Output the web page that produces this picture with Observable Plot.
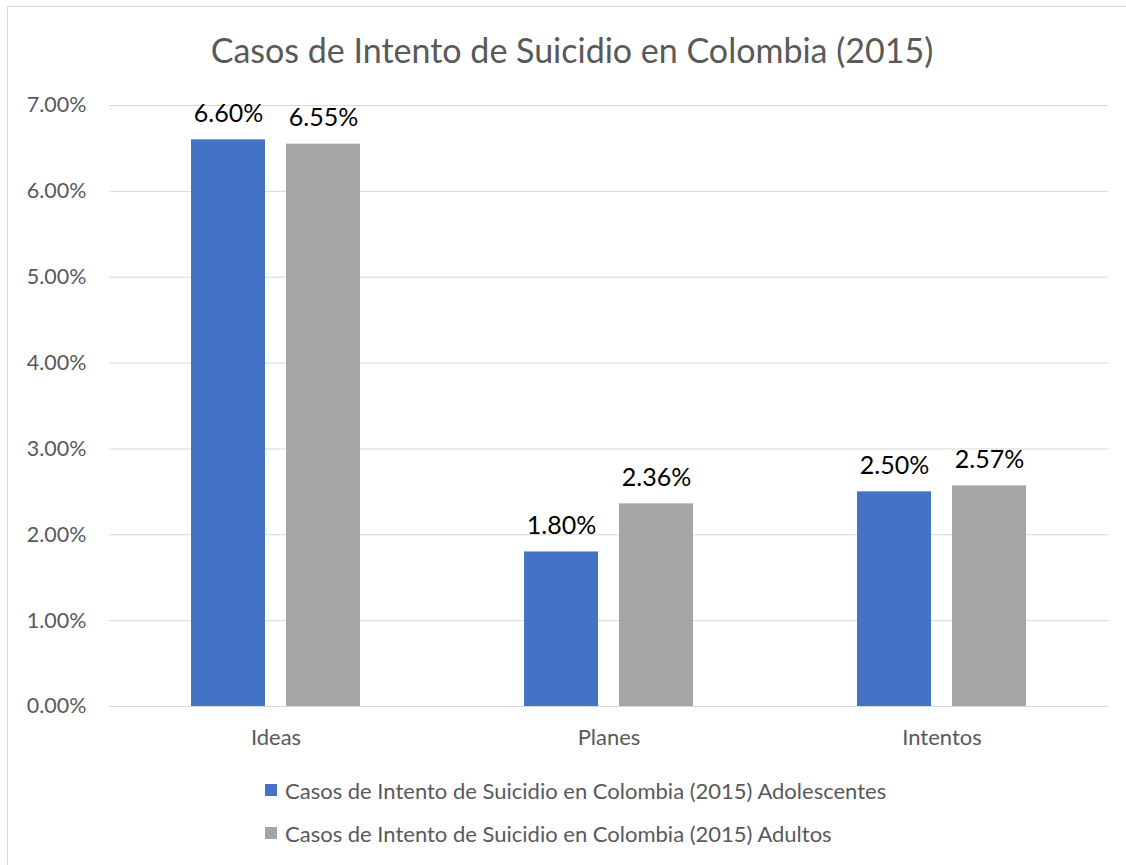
<!DOCTYPE html>
<html>
<head>
<meta charset="utf-8">
<script src="https://cdn.jsdelivr.net/npm/d3@7"></script>
<script src="https://cdn.jsdelivr.net/npm/@observablehq/plot@0.6"></script>
<style>
  html, body { margin: 0; padding: 0; background: white; }
  #wrap { position: relative; width: 1126px; height: 865px; overflow: hidden; font-family: Lato, "Open Sans", sans-serif; }
  #frame { position: absolute; left: 7px; top: 6px; width: 1200px; height: 900px; border-top: 1px solid #d9d9d9; border-left: 1px solid #d9d9d9; box-sizing: border-box; }
  #title { position: absolute; left: 0; width: 1144px; top: 29px; text-align: center; font-size: 34px; color: #595959; }
  #chart { position: absolute; left: 0; top: 0; }
  .leg { position: absolute; left: 265px; font-size: 22px; color: #595959; display: flex; align-items: center; white-space: nowrap; height: 30px; }
  .sw { width: 12px; height: 12px; margin-right: 8px; }
</style>
</head>
<body>
<div id="wrap">
  <div id="frame"></div>
  <div id="chart"></div>
  <div id="title">Casos de Intento de Suicidio en Colombia (2015)</div>
  <div id="legend"></div>
</div>
<script>
const categories = ["Ideas", "Planes", "Intentos"];
const seriesNames = ["Casos de Intento de Suicidio en Colombia (2015) Adolescentes", "Casos de Intento de Suicidio en Colombia (2015) Adultos"];
const adolescentes = [6.60, 1.80, 2.50];
const adultos = [6.55, 2.36, 2.57];
const colors = ["#4472C4", "#A5A5A5"];
const yTicks = [0, 1, 2, 3, 4, 5, 6, 7];

const data = [];
categories.forEach((c, i) => {
  data.push({cat: c, series: seriesNames[0], value: adolescentes[i]});
  data.push({cat: c, series: seriesNames[1], value: adultos[i]});
});

const chart = Plot.plot({
  width: 1126,
  height: 765,
  marginLeft: 108,
  marginRight: 18,
  marginTop: 105,
  marginBottom: 59,
  style: {fontFamily: "Lato, 'Open Sans', sans-serif", fontSize: "21.5px", color: "#595959", background: "transparent"},
  fx: {domain: categories, padding: 0, label: null, axis: null},
  x: {domain: seriesNames, paddingInner: 0.221, paddingOuter: 0.863, axis: null},
  y: {domain: [0, 7], label: null},
  color: {domain: seriesNames, range: colors},
  marks: [
    Plot.gridY(yTicks, {stroke: "#d9d9d9", strokeOpacity: 1}),
    Plot.axisY(yTicks, {tickSize: 0, tickPadding: 23, tickFormat: d => d.toFixed(2) + "%", label: null, fill: "#595959", fontSize: 21.5}),
    Plot.axisFx({anchor: "bottom", tickSize: 0, tickPadding: 23, label: null, fill: "#595959", fontSize: 22}),
    Plot.barY(data, {fx: "cat", x: "series", y: "value", fill: "series"}),
    Plot.text(data, {fx: "cat", x: "series", y: "value", text: d => d.value.toFixed(2) + "%", lineAnchor: "bottom", dy: -18, fill: "black", fontSize: 25})
  ]
});
document.getElementById("chart").appendChild(chart);

const legend = document.getElementById("legend");
seriesNames.forEach((s, i) => {
  const row = document.createElement("div");
  row.className = "leg";
  row.style.top = (775 + i * 43) + "px";
  row.innerHTML = `<div class="sw" style="background:${colors[i]}"></div><span>${s}</span>`;
  legend.appendChild(row);
});
</script>
</body>
</html>
